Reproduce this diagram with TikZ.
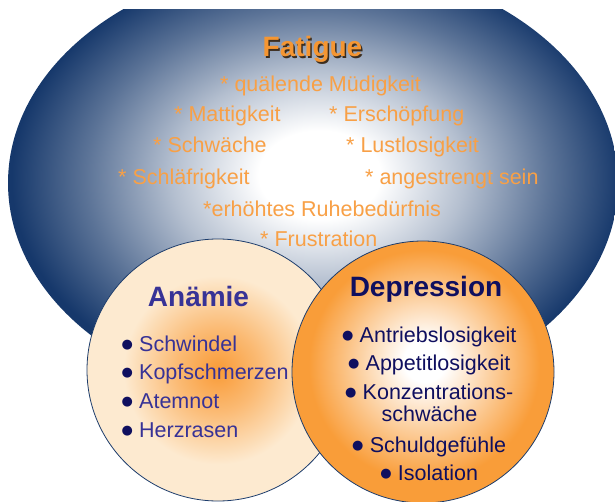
\documentclass[tikz,border=0pt]{standalone}
\usepackage{fontspec}
\setmainfont{Liberation Sans}
\newfontfamily\bulfont{DejaVu Sans}
\definecolor{navy}{RGB}{22,56,107}
\definecolor{ftxt}{RGB}{248,160,70}
\definecolor{ftitle}{RGB}{245,150,50}
\definecolor{shadowc}{RGB}{60,45,30}
\definecolor{cream}{RGB}{253,234,208}
\definecolor{aorange}{RGB}{249,155,55}
\definecolor{dorange}{RGB}{249,157,57}
\definecolor{atxt}{RGB}{55,50,150}
\definecolor{dtxt}{RGB}{15,15,95}
\definecolor{rim}{RGB}{28,60,108}
\pgfdeclareradialshading{fatshade}{\pgfpoint{0.6bp}{1bp}}{color(0bp)=(white); color(5bp)=(white); color(12bp)=(navy!32!white); color(19bp)=(navy!70!white); color(25bp)=(navy); color(50bp)=(navy)}
\pgfdeclareradialshading{anashade}{\pgfpoint{0bp}{0bp}}{color(0bp)=(aorange); color(8bp)=(aorange!60!cream); color(18bp)=(cream); color(25bp)=(cream); color(50bp)=(cream)}
\pgfdeclareradialshading{depshade}{\pgfpoint{0.4bp}{2.3bp}}{color(0bp)=(white); color(4bp)=(white); color(22bp)=(dorange); color(25bp)=(dorange); color(50bp)=(dorange)}
\newcommand{\bul}{\makebox[8pt]{\raisebox{3pt}{\textcolor{dtxt}{\bulfont\fontsize{13}{13}\selectfont ●}}}\hspace{8pt}}
\tikzset{
  ftext/.style={font=\fontsize{21.5}{24}\selectfont, text=ftxt, inner sep=0pt, anchor=base west},
  atext/.style={font=\fontsize{21.5}{24}\selectfont, text=atxt, inner sep=0pt, anchor=base west},
  dtext/.style={font=\fontsize{21.5}{24}\selectfont, text=dtxt, inner sep=0pt, anchor=base},
  titletext/.style={font=\fontsize{28}{30}\selectfont\bfseries, inner sep=0pt, anchor=base},
  ring/.style={draw=rim, line width=0.8pt}
}
\begin{document}
\begin{tikzpicture}[x=1pt,y=-1pt]
\useasboundingbox (0,0) rectangle (615,502);
\begin{scope}
  \clip (0,10) rectangle (615,502);
  \path[shading=fatshade] (313,183) ellipse [x radius=305, y radius=222];
\end{scope}
% Fatigue
\node[titletext, text=shadowc] (fatsh) at (314,58.5) {Fatigue};
\node[titletext, text=ftitle] (fat) at (312.5,57) {Fatigue};
\node[ftext] (f1) at (220,91.5) {* quälende Müdigkeit};
\node[ftext] (f2) at (174,121.5) {* Mattigkeit};
\node[ftext] (f3) at (329,121.5) {* Erschöpfung};
\node[ftext] (f4) at (153,153) {* Schwäche};
\node[ftext] (f5) at (346,153) {* Lustlosigkeit};
\node[ftext] (f6) at (118,185) {* Schläfrigkeit};
\node[ftext] (f7) at (365,185) {* angestrengt sein};
\node[ftext] (f8) at (203,216.5) {*erhöhtes Ruhebedürfnis};
\node[ftext] (f9) at (260,246.5) {* Frustration};
% circles
\path[shading=anashade, ring] (218,370) circle [radius=131];
\path[shading=depshade, ring] (423,372) circle [radius=131];
% Anaemie
\node[titletext, text=atxt] (ana) at (198.5,306) {Anämie};
\node[atext] (a1) at (123,351) {\bul Schwindel};
\node[atext] (a2) at (123,379.5) {\bul Kopfschmerzen};
\node[atext] (a3) at (123,408) {\bul Atemnot};
\node[atext] (a4) at (123,437) {\bul Herzrasen};
% Depression
\node[titletext, text=dtxt] (dep) at (426,297) {Depression};
\node[dtext] (d1) at (430,342) {\bul Antriebslosigkeit};
\node[dtext] (d2) at (430,370) {\bul Appetitlosigkeit};
\node[dtext] (d3) at (430,399.3) {\bul Konzentrations-};
\node[dtext] (d3b) at (429.5,421.7) {schwäche};
\node[dtext] (d4) at (430,452) {\bul Schuldgefühle};
\node[dtext] (d5) at (430,480) {\bul Isolation};
\end{tikzpicture}
\end{document}
